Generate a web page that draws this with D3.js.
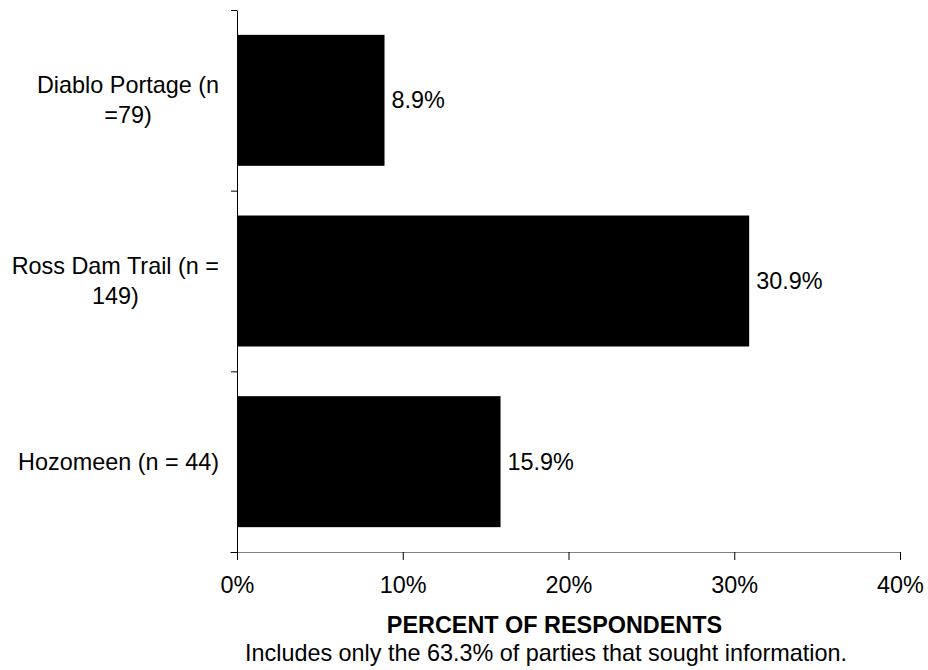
<!DOCTYPE html>
<html>
<head>
<meta charset="utf-8">
<script src="https://cdn.jsdelivr.net/npm/d3@7"></script>
<style>
  html, body { margin: 0; padding: 0; background: #fff; }
  svg { display: block; font-family: "Liberation Sans", Arial, sans-serif; }
</style>
</head>
<body>
<svg id="chart" width="928" height="670"></svg>
<script>
const categories = [
  ["Diablo Portage (n", "=79)"],
  ["Ross Dam Trail (n =", "149)"],
  ["Hozomeen (n = 44)"]
];
const values = [8.9, 30.9, 15.9];
const xTicks = [0, 10, 20, 30, 40];
const xTitle = "PERCENT OF RESPONDENTS";
const caption = "Includes only the 63.3% of parties that sought information.";

(function () {
const svg = d3.select("#chart");
const fs = 23.4;
const mLeft = 237, mRight = 900, mTop = 10, mBottom = 552;

const x = d3.scaleLinear().domain([0, 40]).range([mLeft, mRight]);
const idx = categories.map((d, i) => i);
const y = d3.scaleBand().domain(idx).range([mTop, mBottom])
  .paddingInner(0.275).paddingOuter(0.1375);
const yEdge = d3.scaleLinear().domain([0, categories.length]).range([mTop, mBottom]);

// bars
svg.append("g").selectAll("rect").data(values).join("rect")
  .attr("x", x(0))
  .attr("y", (d, i) => y(i))
  .attr("width", d => x(d) - x(0))
  .attr("height", y.bandwidth())
  .attr("fill", "#000");

// value labels
svg.append("g").selectAll("text").data(values).join("text")
  .attr("x", d => x(d) + 7)
  .attr("y", (d, i) => y(i) + y.bandwidth() / 2 + 8)
  .attr("font-size", fs)
  .attr("fill", "#000")
  .text(d => d.toFixed(1) + "%");

// x axis
const xAxis = svg.append("g")
  .attr("transform", `translate(0,${mBottom})`)
  .call(d3.axisBottom(x).tickValues(xTicks).tickFormat(d => d + "%").tickSize(8).tickSizeOuter(0));
xAxis.select(".domain").attr("stroke", "#808080").attr("d", `M${mLeft - 7},0.5H${mRight}`);
xAxis.selectAll(".tick line").attr("stroke", "#000");
xAxis.selectAll(".tick text")
  .attr("font-size", fs).attr("font-family", "Liberation Sans, Arial, sans-serif")
  .attr("fill", "#000").attr("dy", null).attr("y", 41);

// y axis
const yAxis = svg.append("g")
  .attr("transform", `translate(${mLeft},0)`)
  .call(d3.axisLeft(yEdge).tickValues(d3.range(categories.length + 1)).tickFormat("").tickSize(6).tickSizeOuter(0));
yAxis.select(".domain").attr("stroke", "#000");
yAxis.selectAll(".tick line").attr("stroke", "#000");

// category labels (block right-aligned, lines centred)
const lh = 30;
categories.forEach((lines, i) => {
  const g = svg.append("g");
  const cy = y(i) + y.bandwidth() / 2 + 8;
  const n = lines.length;
  const texts = lines.map((t, j) => g.append("text")
    .attr("font-size", fs)
    .attr("fill", "#000")
    .attr("text-anchor", "middle")
    .attr("y", cy + (j - (n - 1) / 2) * lh)
    .text(t));
  const w = d3.max(texts, t => t.node().getComputedTextLength());
  texts.forEach(t => t.attr("x", 219 - w / 2));
});

// titles
svg.append("text")
  .attr("x", 554.5).attr("y", 633)
  .attr("text-anchor", "middle")
  .attr("font-size", fs).attr("font-weight", "bold")
  .text(xTitle);
svg.append("text")
  .attr("x", 546).attr("y", 661)
  .attr("text-anchor", "middle")
  .attr("font-size", fs)
  .text(caption);
})();
</script>
</body>
</html>
